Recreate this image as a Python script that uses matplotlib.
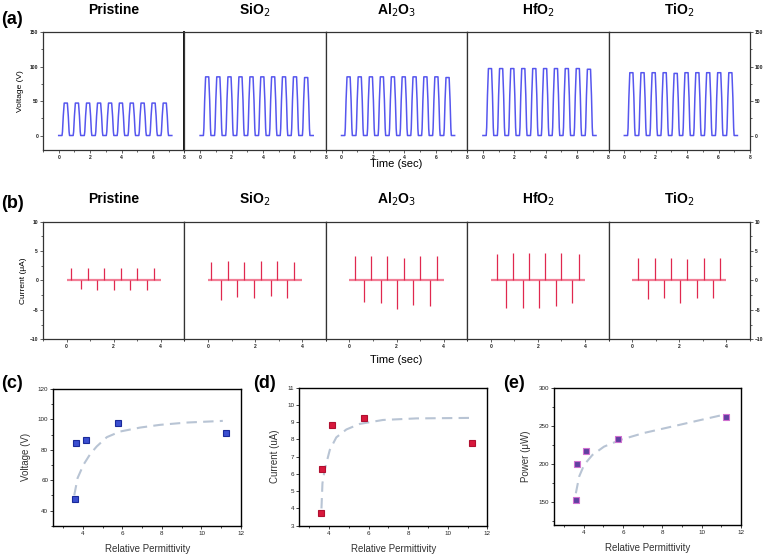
import numpy as np
import matplotlib
matplotlib.use('Agg')
import matplotlib.pyplot as plt
from matplotlib.ticker import MultipleLocator

plt.rcParams['font.family'] = ['Liberation Sans', 'DejaVu Sans']

W, H = 765, 558

# --- Data ---
MATERIALS = ['Pristine', 'SiO$_2$', 'Al$_2$O$_3$', 'HfO$_2$', 'TiO$_2$']

# (a) voltage pulses: peak centre times (s) and peak values (V) per material
PULSE_TIMES = [0.45, 1.16, 1.87, 2.57, 3.27, 3.96, 4.65, 5.34, 6.04, 6.75]
PULSE_PEAKS = [
    [47, 47, 47, 47, 47, 47, 47, 47, 47, 47],
    [85, 85, 85, 85, 85, 85, 85, 85, 85, 84],
    [85, 85, 85, 85, 85, 85, 85, 85, 85, 84],
    [97, 97, 97, 97, 97, 97, 97, 97, 97, 96],
    [91, 91, 91, 91, 90, 91, 91, 91, 91, 91],
]
PULSE_END = 7.2

# (b) current spikes: times (s) and values (uA) per material
SPIKE_TIMES = [
    [0.20, 0.60, 0.90, 1.30, 1.60, 2.00, 2.30, 2.70, 3.00, 3.40, 3.70],
    [0.14, 0.56, 0.86, 1.25, 1.55, 1.96, 2.26, 2.66, 2.95, 3.36, 3.64],
    [0.22, 0.62, 0.90, 1.33, 1.58, 2.03, 2.30, 2.72, 3.00, 3.41, 3.70],
    [0.25, 0.65, 0.93, 1.36, 1.62, 2.06, 2.32, 2.75, 3.00, 3.45, 3.74],
    [0.25, 0.66, 0.96, 1.37, 1.64, 2.05, 2.33, 2.74, 3.05, 3.45, 3.74],
]
SPIKE_VALUES = [
    [2.1, -1.5, 2.2, -1.7, 2.2, -1.7, 2.2, -1.6, 2.1, -1.6, 2.2],
    [3.2, -3.3, 3.3, -2.8, 3.2, -2.9, 3.3, -2.7, 3.3, -3.0, 3.2],
    [4.1, -3.7, 4.1, -3.9, 4.1, -4.8, 3.9, -4.2, 4.1, -4.3, 4.1],
    [4.5, -4.6, 4.6, -4.6, 4.6, -4.7, 4.7, -4.4, 4.6, -3.8, 4.5],
    [3.9, -3.2, 3.8, -2.9, 3.8, -3.8, 3.7, -2.9, 3.8, -2.9, 3.8],
]
SPIKE_END = 4.0

# (c)-(e) versus relative permittivity
PERMITTIVITY = [3.62, 3.66, 4.15, 5.75, 11.22]
VOLTAGE = [47.7, 84.6, 86.3, 97.9, 90.8]
CURRENT = [3.75, 6.3, 8.86, 9.25, 7.81]
POWER = [153, 199.5, 216.6, 233.3, 262.6]

FIT_C_X = [3.56, 3.73, 4.03, 4.37, 4.70, 5.21, 5.88, 6.89, 7.90, 9.24, 11.08]
FIT_C_Y = [50, 61.4, 70.2, 77.2, 82.2, 88.3, 92.0, 94.6, 96.4, 97.9, 99.0]
FIT_D_X = [3.62, 3.67, 3.78, 4.04, 4.37, 4.88, 5.55, 6.73, 8.42, 11.2]
FIT_D_Y = [4.0, 5.46, 6.23, 7.39, 8.12, 8.58, 8.90, 9.13, 9.22, 9.25]
FIT_E_X = [3.61, 3.78, 4.03, 4.45, 5.04, 5.88, 7.06, 8.58, 9.92, 11.1]
FIT_E_Y = [161.5, 183.7, 199, 212, 223, 232, 241, 250, 258, 265]

# pulse profile around each peak centre (time offset, fraction of peak)
PULSE_DT = [-0.24, -0.21, -0.16, -0.10, 0.10, 0.16, 0.21, 0.24]
PULSE_FR = [0.0, 0.12, 0.60, 1.0, 1.0, 0.60, 0.12, 0.0]

BLUE = '#5656ee'
RED = '#e0284f'
PINK = '#f27d95'
FRAME = '#333333'


def px_axes(fig, l, t, r, b):
    return fig.add_axes([l / W, 1 - b / H, (r - l) / W, (b - t) / H])


def fig_text(fig, x, y, s, **kw):
    fig.text(x / W, 1 - y / H, s, ha='center', va='center', **kw)


def style_strip(ax, i):
    # shared tick styling for the five-panel strips in rows (a) and (b)
    ax.tick_params(which='both', direction='out', labelsize=3.6, width=0.5,
                   pad=1.5, colors='#222222')
    ax.tick_params(which='major', length=2)
    ax.tick_params(which='minor', length=1.2)
    if i == 0:
        ax.tick_params(axis='y', which='both', left=True, labelleft=True)
    elif i == 4:
        ax.tick_params(axis='y', which='both', left=False, labelleft=False,
                       right=True, labelright=True)
    else:
        ax.tick_params(axis='y', which='both', left=False, labelleft=False)
    for lab in ax.get_xticklabels() + ax.get_yticklabels():
        lab.set_fontweight('bold')
    for sp in ax.spines.values():
        sp.set_color(FRAME)
        sp.set_linewidth(0.9)


fig = plt.figure(figsize=(W / 100, H / 100), dpi=100)

lefts = [43 + i * 141.4 for i in range(5)]

# --- row (a): voltage ---
for i, name in enumerate(MATERIALS):
    ax = px_axes(fig, lefts[i], 32, lefts[i] + 141.4, 150)
    t = [0.0]
    v = [0.0]
    for c, p in zip(PULSE_TIMES, PULSE_PEAKS[i]):
        t += [c + d for d in PULSE_DT]
        v += [p * f for f in PULSE_FR]
    t.append(PULSE_END)
    v.append(0.0)
    ax.plot(t, v, color=BLUE, lw=1.1)
    ax.set_xlim(-1, 8)
    ax.set_ylim(-21, 150)
    ax.xaxis.set_major_locator(MultipleLocator(2))
    ax.xaxis.set_minor_locator(MultipleLocator(1))
    ax.yaxis.set_major_locator(MultipleLocator(50))
    ax.yaxis.set_minor_locator(MultipleLocator(25))
    style_strip(ax, i)
    if i == 0:
        ax.spines['right'].set_color('black')
        ax.spines['right'].set_linewidth(1.3)
        ax.set_ylabel('Voltage (V)', fontsize=6, labelpad=4)
    fig_text(fig, lefts[i] + 70.7, 10, name, fontsize=10, fontweight='bold')

fig_text(fig, 396, 164, 'Time (sec)', fontsize=8)
fig_text(fig, 12, 20, '(a)', fontsize=13, fontweight='bold')

# --- row (b): current ---
for i, name in enumerate(MATERIALS):
    ax = px_axes(fig, lefts[i], 221.7, lefts[i] + 141.4, 339.3)
    ax.plot([0, SPIKE_END], [0, 0], color=PINK, lw=1.6, solid_capstyle='butt')
    ax.vlines(SPIKE_TIMES[i], 0, SPIKE_VALUES[i], color=RED, lw=0.9)
    ax.set_xlim(-1, 5)
    ax.set_ylim(-10, 10)
    ax.xaxis.set_major_locator(MultipleLocator(2))
    ax.xaxis.set_minor_locator(MultipleLocator(1))
    ax.yaxis.set_major_locator(MultipleLocator(5))
    ax.yaxis.set_minor_locator(MultipleLocator(2.5))
    style_strip(ax, i)
    if i == 0:
        ax.set_ylabel('Current (\u03bcA)', fontsize=6, labelpad=2)
    fig_text(fig, lefts[i] + 70.7, 199, name, fontsize=10, fontweight='bold')

fig_text(fig, 396, 360, 'Time (sec)', fontsize=8)
fig_text(fig, 12, 203, '(b)', fontsize=13, fontweight='bold')

# --- row (c)-(e): scatter vs relative permittivity ---
scatter_panels = [
    ((53.3, 389, 241, 525.7), VOLTAGE, FIT_C_X, FIT_C_Y, (30, 120), 20, 10,
     'Voltage (V)', '#3b4fd0', '#1a2a9a', '(c)', 12),
    ((299.3, 387.7, 487.3, 525.7), CURRENT, FIT_D_X, FIT_D_Y, (3, 11), 1, None,
     'Current (uA)', '#d8183c', '#b01030', '(d)', 264),
    ((554, 388.3, 741, 524.7), POWER, FIT_E_X, FIT_E_Y, (120, 300), 50, 25,
     'Power (\u03bcW)', '#6040a0', '#d070d0', '(e)', 514),
]

for box, yvals, fx, fy, ylim, ymaj, ymin, ylab, face, edge, tag, tagx in scatter_panels:
    ax = px_axes(fig, *box)
    ax.plot(fx, fy, color='#b8c4d4', lw=1.5, dashes=(5, 3))
    ax.plot(PERMITTIVITY, yvals, 's', ms=4.2, mfc=face, mec=edge, mew=0.8)
    ax.set_xlim(2.5, 12)
    ax.set_ylim(*ylim)
    ax.xaxis.set_major_locator(MultipleLocator(2))
    ax.xaxis.set_minor_locator(MultipleLocator(1))
    ax.yaxis.set_major_locator(MultipleLocator(ymaj))
    if ymin:
        ax.yaxis.set_minor_locator(MultipleLocator(ymin))
    ax.set_xticks([4, 6, 8, 10, 12])
    ax.tick_params(which='both', direction='out', labelsize=4.5, width=0.6,
                   pad=1.5, colors='#222222')
    ax.tick_params(which='major', length=2.2)
    ax.tick_params(which='minor', length=1.3)
    for sp in ax.spines.values():
        sp.set_color('black')
        sp.set_linewidth(1.0)
    ax.set_xlabel('Relative Permittivity', fontsize=7, labelpad=6, color='#333333')
    ax.set_ylabel(ylab, fontsize=7, labelpad=5, color='#333333')
    fig_text(fig, tagx, 383, tag, fontsize=13, fontweight='bold')

fig.savefig('out.png', dpi=100)
